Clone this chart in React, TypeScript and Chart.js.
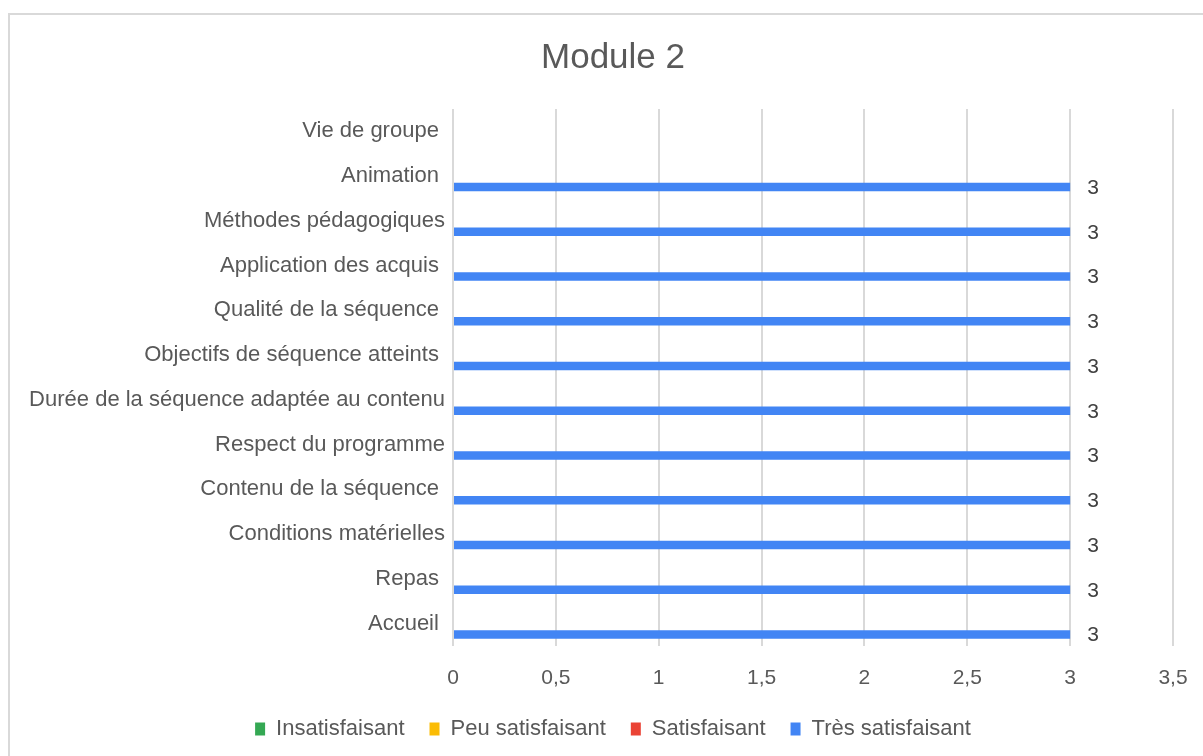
import React, { useEffect, useRef } from "react";
import { Chart, registerables } from "chart.js";

Chart.register(...registerables);

const categories = [
  "Vie de groupe ",
  "Animation ",
  "Méthodes pédagogiques",
  "Application des acquis ",
  "Qualité de la séquence ",
  "Objectifs de séquence atteints ",
  "Durée de la séquence adaptée au contenu",
  "Respect du programme",
  "Contenu de la séquence ",
  "Conditions matérielles",
  "Repas ",
  "Accueil ",
];

const insatisfaisant = [0, 0, 0, 0, 0, 0, 0, 0, 0, 0, 0, 0];
const peuSatisfaisant = [0, 0, 0, 0, 0, 0, 0, 0, 0, 0, 0, 0];
const satisfaisant = [0, 0, 0, 0, 0, 0, 0, 0, 0, 0, 0, 0];
const tresSatisfaisant = [null, 3, 3, 3, 3, 3, 3, 3, 3, 3, 3, 3];

const seriesNames = ["Insatisfaisant", "Peu satisfaisant", "Satisfaisant", "Très satisfaisant"];
const seriesColors = ["#34A853", "#FBBC04", "#EA4335", "#4285F4"];

const xTicks = [0, 0.5, 1, 1.5, 2, 2.5, 3, 3.5];

const FONT = '"Liberation Sans", Arial, sans-serif';
const TEXT = "#595959";

const labelPlugin = {
  id: "valueLabels",
  afterDatasetsDraw(chart: any) {
    const ctx = chart.ctx;
    const meta = chart.getDatasetMeta(3);
    const data = chart.data.datasets[3].data;
    ctx.save();
    ctx.font = `21px ${FONT}`;
    ctx.fillStyle = "#404040";
    ctx.textAlign = "left";
    ctx.textBaseline = "middle";
    meta.data.forEach((bar: any, i: number) => {
      const v = data[i];
      if (v === null || v === undefined) return;
      ctx.fillText(String(v).replace(".", ","), bar.x + 17, bar.y + 1);
    });
    ctx.restore();
  },
};

export default function App() {
  const ref = useRef<HTMLCanvasElement>(null);
  useEffect(() => {
    const values = [insatisfaisant, peuSatisfaisant, satisfaisant, tresSatisfaisant];
    const chart = new Chart(ref.current!, {
      type: "bar",
      data: {
        labels: categories,
        datasets: values.map((d, i) => ({
          label: seriesNames[i],
          data: d,
          backgroundColor: seriesColors[i],
          borderWidth: 0,
          categoryPercentage: 0.655,
          barPercentage: 1.16,
        })),
      },
      options: {
        indexAxis: "y",
        animation: false,
        responsive: false,
        maintainAspectRatio: false,
        layout: { padding: { left: 43, right: 30, top: 0, bottom: 6 } },
        plugins: {
          title: {
            display: true,
            text: "Module 2",
            color: TEXT,
            font: { family: FONT, size: 35, weight: "normal" },
            padding: { top: 22, bottom: 30 },
          },
          legend: {
            position: "bottom",
            labels: {
              color: TEXT,
              font: { family: FONT, size: 22 },
              boxWidth: 10,
              boxHeight: 13,
              padding: 25,
            },
          },
          tooltip: { enabled: false },
        },
        scales: {
          x: {
            min: 0,
            max: 3.5,
            afterBuildTicks(scale: any) {
              scale.ticks = xTicks.map((v) => ({ value: v }));
            },
            afterFit(scale: any) {
              scale.height = 47;
              scale.paddingLeft = 0;
              scale.paddingRight = 0;
            },
            ticks: {
              color: TEXT,
              font: { family: FONT, size: 21 },
              padding: 20,
              maxRotation: 0,
              callback: (v: any) => String(v).replace(".", ","),
            },
            grid: { color: "#d9d9d9", lineWidth: 2, drawTicks: false },
            border: { display: false },
          },
          y: {
            afterFit(scale: any) {
              scale.width = 400;
              scale._computeLabelArea = () => null;
            },
            ticks: {
              color: TEXT,
              font: { family: FONT, size: 22 },
              padding: 8,
              autoSkip: false,
            },
            grid: { display: false, drawTicks: false },
            border: { display: false },
          },
        },
      },
      plugins: [labelPlugin],
    });
    return () => chart.destroy();
  }, []);

  return (
    <div
      style={{
        position: "fixed",
        left: 8,
        top: 13,
        width: 1240,
        height: 800,
        border: "2px solid #d9d9d9",
        background: "#fff",
      }}
    >
      <canvas ref={ref} width={1193} height={741} style={{ display: "block", width: 1193, height: 741 }} />
    </div>
  );
}
